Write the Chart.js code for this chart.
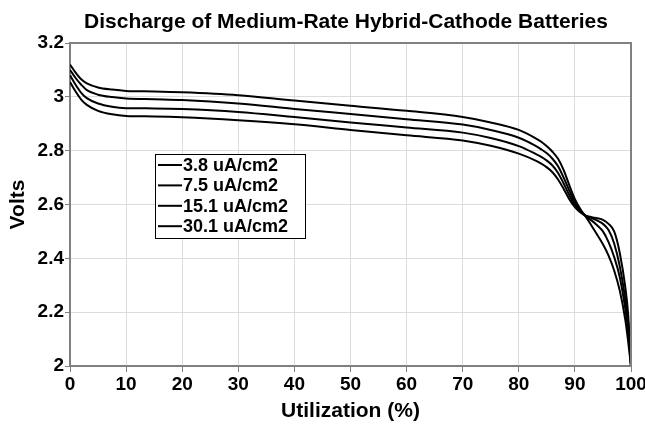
<!DOCTYPE html>
<html><head><meta charset="utf-8">
<script src="https://cdn.jsdelivr.net/npm/chart.js@4.4.1/dist/chart.umd.min.js"></script>
<style>html,body{margin:0;padding:0;background:#fff}#wrap{width:645px;height:424px;position:relative}</style>
</head><body><div id="wrap"><canvas id="c" width="645" height="424"></canvas></div>
<script>
const chartTitle = 'Discharge of Medium-Rate Hybrid-Cathode Batteries';
const xTitle = 'Utilization (%)';
const yTitle = 'Volts';
const seriesLabels = ['3.8 uA/cm2', '7.5 uA/cm2', '15.1 uA/cm2', '30.1 uA/cm2'];
const utilization = [0,1,2,3,5,7.5,10,15,20,30,40,50,60,70,75,80,83,84,85,86,87,88,89,90,91,92,93,94,95,96,97,98,99,99.5,100];
const volts38  = [3.12,3.09,3.065,3.05,3.035,3.027,3.022,3.02,3.017,3.006,2.986,2.967,2.948,2.925,2.905,2.877,2.846,2.833,2.816,2.796,2.77,2.728,2.672,2.62,2.582,2.553,2.52,2.487,2.452,2.41,2.355,2.28,2.17,2.09,2.0];
const volts75  = [3.10,3.07,3.045,3.025,3.008,2.999,2.994,2.991,2.988,2.975,2.955,2.936,2.917,2.897,2.877,2.848,2.818,2.805,2.79,2.77,2.742,2.70,2.652,2.608,2.577,2.555,2.54,2.522,2.50,2.46,2.405,2.33,2.21,2.13,2.0];
const volts151 = [3.08,3.045,3.015,2.995,2.975,2.963,2.958,2.957,2.955,2.944,2.925,2.905,2.886,2.867,2.847,2.817,2.788,2.777,2.763,2.745,2.717,2.678,2.635,2.598,2.573,2.558,2.55,2.54,2.528,2.505,2.455,2.37,2.245,2.16,2.0];
const volts301 = [3.055,3.02,2.99,2.97,2.948,2.935,2.929,2.927,2.924,2.913,2.898,2.877,2.857,2.838,2.818,2.789,2.763,2.752,2.738,2.72,2.693,2.658,2.62,2.59,2.57,2.558,2.553,2.549,2.543,2.528,2.50,2.42,2.29,2.19,2.0];
const xTickValues = [0,10,20,30,40,50,60,70,80,90,100];
const xTickLabels = ['0','10','20','30','40','50','60','70','80','90','100'];
const yTickValues = [2,2.2,2.4,2.6,2.8,3,3.2];
const yTickLabels = ['2','2.2','2.4','2.6','2.8','3','3.2'];

const FONT = '"Liberation Sans", Arial, Helvetica, sans-serif';
const seriesValues = [volts38, volts75, volts151, volts301];

function lookup(vals, labels, v){
  let best = 0;
  for (let i=0;i<vals.length;i++) if (Math.abs(vals[i]-v) < Math.abs(vals[best]-v)) best = i;
  return Math.abs(vals[best]-v) < 1e-6 ? labels[best] : '';
}

const framePlugin = {
  id: 'frame',
  afterDraw(chart){
    const {ctx, chartArea:a} = chart;
    ctx.save();
    ctx.strokeStyle = '#808080';
    ctx.lineWidth = 2;
    ctx.beginPath();
    ctx.moveTo(a.left, a.top); ctx.lineTo(a.right, a.top); ctx.lineTo(a.right, a.bottom);
    ctx.stroke();
    // title
    ctx.fillStyle = '#000';
    ctx.font = 'bold 21px ' + FONT;
    ctx.textAlign = 'center';
    ctx.textBaseline = 'middle';
    ctx.fillText(chartTitle, 346, 22);
    // legend box
    const bx = a.left + 85, by = a.top + 111, bw = 150, bh = 84;
    ctx.fillStyle = '#fff';
    ctx.fillRect(bx, by, bw, bh);
    ctx.strokeStyle = '#000';
    ctx.lineWidth = 1;
    ctx.strokeRect(bx + 0.5, by + 0.5, bw, bh);
    ctx.font = 'bold 18px ' + FONT;
    ctx.textAlign = 'left';
    chart.data.datasets.forEach((ds, i) => {
      const y = by + 11 + i * 20.4;
      ctx.strokeStyle = '#000';
      ctx.lineWidth = 2;
      ctx.beginPath(); ctx.moveTo(bx + 3, y); ctx.lineTo(bx + 27, y); ctx.stroke();
      ctx.fillStyle = '#000';
      ctx.fillText(ds.label, bx + 28, y + 1);
    });
    ctx.restore();
  }
};

new Chart(document.getElementById('c'), {
  type: 'line',
  data: {
    datasets: seriesLabels.map((lab, i) => ({
      label: lab,
      data: utilization.map((x, j) => ({x: x, y: seriesValues[i][j]})),
      borderColor: '#000',
      borderWidth: 2,
      pointRadius: 0,
      fill: false,
      cubicInterpolationMode: 'monotone'
    }))
  },
  options: {
    responsive: false,
    animation: false,
    devicePixelRatio: 1,
    layout: { padding: { top: 43, right: 14, left: 0, bottom: 0 } },
    plugins: { legend: { display: false }, title: { display: false }, tooltip: { enabled: false } },
    scales: {
      x: {
        type: 'linear', min: 0, max: 100,
        afterBuildTicks: s => { s.ticks = xTickValues.map(v => ({value: v})); },
        afterFit: s => { s.height = 58; s.paddingRight = 0; s.paddingLeft = 0; },
        grid: { color: '#dcdcdc', lineWidth: 1, tickColor: '#808080', tickLength: 6, drawTicks: true },
        border: { color: '#808080', width: 2 },
        ticks: { color: '#000', font: { family: FONT, size: 19, weight: 'bold' }, padding: 1, maxRotation: 0,
                 callback: v => lookup(xTickValues, xTickLabels, v) },
        title: { display: true, text: xTitle, color: '#000', font: { family: FONT, size: 21, weight: 'bold' }, padding: { top: 1, bottom: 0 } }
      },
      y: {
        type: 'linear', min: 2, max: 3.2,
        afterBuildTicks: s => { s.ticks = yTickValues.map(v => ({value: v})); },
        afterFit: s => { s.width = 70; s.paddingTop = 0; s.paddingBottom = 0; },
        grid: { color: '#dcdcdc', lineWidth: 1, tickColor: '#808080', tickLength: 5, drawTicks: true },
        border: { color: '#808080', width: 2 },
        ticks: { color: '#000', font: { family: FONT, size: 19, weight: 'bold' }, padding: 1,
                 callback: v => lookup(yTickValues, yTickLabels, v) },
        title: { display: true, text: yTitle, color: '#000', font: { family: FONT, size: 21, weight: 'bold' }, padding: { top: 6, bottom: 4 } }
      }
    }
  },
  plugins: [framePlugin]
});
</script></body></html>
